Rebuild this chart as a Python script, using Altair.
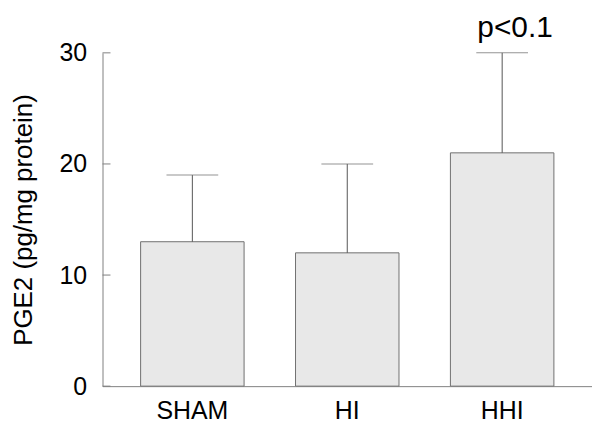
import altair as alt
import pandas as pd

groups = ["SHAM", "HI", "HHI"]
means = [13, 12, 21]
upper = [19, 20, 30]
annot_group = ["HHI"]
annot_value = [30]
annot_text = ["p<0.1"]
y_ticks = [0, 10, 20, 30]

FONT = "Liberation Sans"

df = pd.DataFrame({"group": groups, "mean": means, "upper": upper})
ann = pd.DataFrame({"group": annot_group, "y": annot_value, "label": annot_text})
ticks = pd.DataFrame({"t": y_ticks})

xscale = alt.Scale(domain=groups, paddingInner=0.332, paddingOuter=0.246)
yscale = alt.Scale(domain=[0, 30], nice=False, zero=True)

xenc = alt.X("group:N", scale=xscale, sort=groups,
             axis=alt.Axis(title=None, labelAngle=0, ticks=False, labelFont=FONT,
                           labelFontSize=25, labelColor="black", labelPadding=13,
                           domainColor="#808080", domainWidth=1))

bars = alt.Chart(df).mark_bar(fill="#e8e8e8", stroke="#707070", strokeWidth=1).encode(
    x=xenc,
    y=alt.Y("mean:Q", scale=yscale,
            axis=alt.Axis(title="PGE2 (pg/mg protein)", values=y_ticks, ticks=False,
                          grid=False, labelFont=FONT, labelFontSize=25, labelColor="black",
                          labelPadding=16, titleFont=FONT, titleFontSize=26,
                          titleFontWeight="normal", titleColor="black", titlePadding=23,
                          domainColor="#808080", domainWidth=1)),
)

err = alt.Chart(df).mark_rule(color="#555555", strokeWidth=1).encode(
    x=alt.X("group:N", scale=xscale, sort=groups),
    y=alt.Y("mean:Q", scale=yscale),
    y2="upper:Q",
)

caps = alt.Chart(df).mark_tick(color="#666666", thickness=1, size=52).encode(
    x=alt.X("group:N", scale=xscale, sort=groups),
    y=alt.Y("upper:Q", scale=yscale),
)

tickmarks = alt.Chart(ticks).mark_rule(color="#808080", strokeWidth=1).encode(
    x=alt.value(0), x2=alt.value(8),
    y=alt.Y("t:Q", scale=yscale),
)

text = alt.Chart(ann).mark_text(font=FONT, fontSize=30, color="black", baseline="alphabetic",
                                dx=13, dy=-16).encode(
    x=alt.X("group:N", scale=xscale, sort=groups),
    y=alt.Y("y:Q", scale=yscale),
    text="label:N",
)

chart = alt.layer(bars, err, caps, tickmarks, text).properties(
    width=492, height=335,
    autosize=alt.AutoSizeParams(type="none"),
    padding={"left": 95, "top": 44, "right": 0, "bottom": 45},
).configure(background="white").configure_view(strokeWidth=0).configure_axis(grid=False)

chart.save("out.html", embed_options={"renderer": "svg", "actions": False})
